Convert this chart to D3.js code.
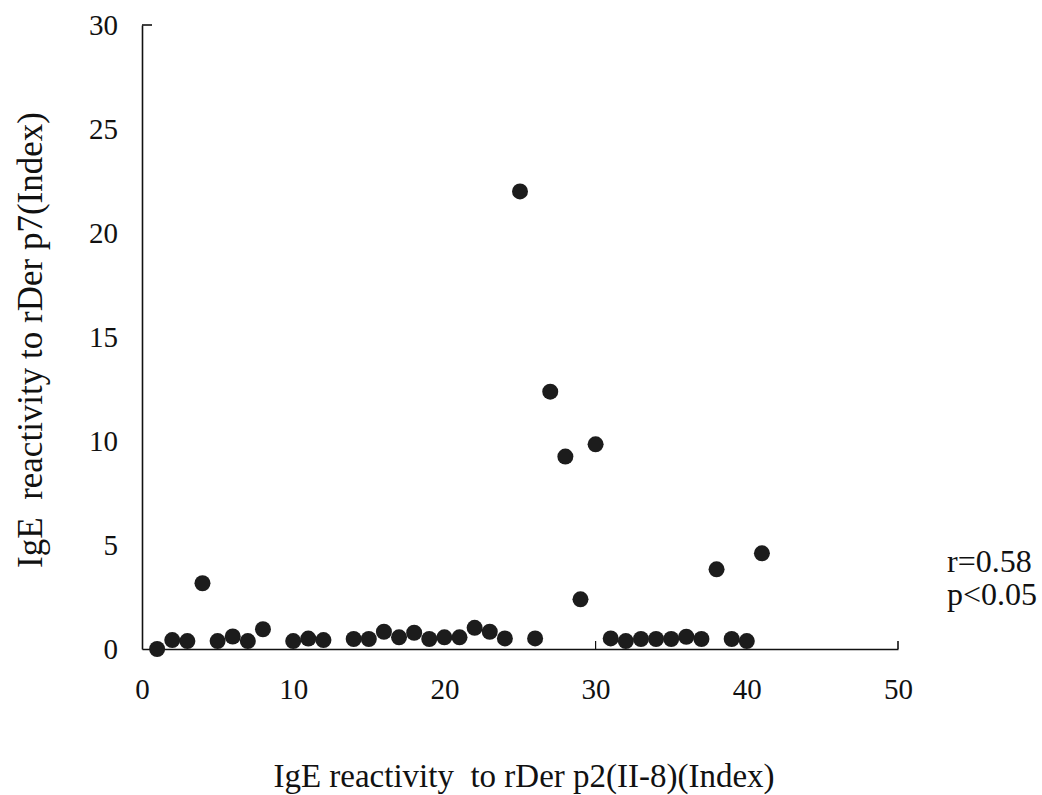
<!DOCTYPE html>
<html>
<head>
<meta charset="utf-8">
<script src="https://cdn.jsdelivr.net/npm/d3@7/dist/d3.min.js"></script>
<style>
  body { margin: 0; background: #fff; }
  text { font-family: "Liberation Serif", "Times New Roman", serif; fill: #111; }
</style>
</head>
<body>
<div id="vis"></div>
<script>
/* data */
var xValues = [1, 2, 3, 4, 5, 6, 7, 8, 10, 11, 12, 14, 15, 16, 17, 18, 19, 20, 21, 22, 23, 24,
               25, 26, 27, 28, 29, 30, 31, 32, 33, 34, 35, 36, 37, 38, 39, 40, 41];
var yValues = [0.0, 0.43, 0.38, 3.16, 0.38, 0.6, 0.38, 0.95, 0.38, 0.5, 0.43, 0.48, 0.48, 0.83, 0.56, 0.78, 0.48, 0.56, 0.56, 1.02, 0.83, 0.51,
               22.0, 0.51, 12.37, 9.25, 2.39, 9.84, 0.51, 0.38, 0.48, 0.48, 0.48, 0.59, 0.48, 3.83, 0.48, 0.38, 4.6];
var xTicks = [0, 10, 20, 30, 40, 50];
var yTicks = [0, 5, 10, 15, 20, 25, 30];
var xTitle = "IgE reactivity\u00a0 to rDer p2(II-8)(Index)";
var yTitle = "IgE\u00a0 reactivity to rDer p7(Index)";
var notes = ["r=0.58", "p<0.05"];

var width = 1042, height = 795;
var radius = 8;

var svg = d3.select('#vis').append('svg')
    .attr('width', width)
    .attr('height', height);

/* Scales */
var xScale = d3.scaleLinear().domain([0, 50]).range([142, 898]);
var yScale = d3.scaleLinear().domain([0, 30]).range([649, 25]);

/* Axes */
var xAxis = d3.axisBottom(xScale).tickValues(xTicks).tickSize(0).tickPadding(35);
var yAxis = d3.axisLeft(yScale).tickValues(yTicks).tickSize(0).tickPadding(24);

var xAxisDraw = svg.append('g')
    .attr('class', 'x axis')
    .attr('transform', 'translate(0,' + yScale(0) + ')')
    .call(xAxis);

var yAxisDraw = svg.append('g')
    .attr('class', 'y axis')
    .attr('transform', 'translate(' + xScale(0) + ',0)')
    .call(yAxis);

svg.selectAll('.axis .domain').attr('stroke', '#111').attr('stroke-width', 1.6);
svg.selectAll('.axis text')
    .style('font-family', '"Liberation Serif", serif')
    .style('font-size', '29px')
    .attr('fill', '#111');
xAxisDraw.selectAll('text').attr('dy', '0.5em');

// little hooks at the ends of the axes, as in the scan
svg.append('line')
    .attr('x1', xScale(0)).attr('x2', xScale(0) + 10)
    .attr('y1', yScale(30)).attr('y2', yScale(30))
    .attr('stroke', '#111').attr('stroke-width', 1.6);
svg.append('line')
    .attr('x1', xScale(50)).attr('x2', xScale(50))
    .attr('y1', yScale(0)).attr('y2', yScale(0) - 8)
    .attr('stroke', '#111').attr('stroke-width', 1.6);
svg.append('line')
    .attr('x1', xScale(30)).attr('x2', xScale(30))
    .attr('y1', yScale(0)).attr('y2', yScale(0) - 8)
    .attr('stroke', '#111').attr('stroke-width', 1.2);

/* Points */
var points = xValues.map(function (x, i) { return { x: x, y: yValues[i] }; });

svg.append('g')
    .attr('class', 'nodes')
    .selectAll('circle')
    .data(points)
    .enter()
    .append('circle')
    .attr('cx', function (d) { return xScale(d.x); })
    .attr('cy', function (d) { return yScale(d.y); })
    .attr('r', radius)
    .attr('fill', '#1c1c1c');

/* Titles */
svg.append('text')
    .attr('x', 524)
    .attr('y', 787)
    .attr('text-anchor', 'middle')
    .style('font-size', '33px')
    .text(xTitle);

svg.append('text')
    .attr('transform', 'translate(42,' + 340 + ') rotate(-90)')
    .attr('text-anchor', 'middle')
    .style('font-size', '35px')
    .text(yTitle);

/* r and p */
svg.append('g')
    .selectAll('text')
    .data(notes)
    .enter()
    .append('text')
    .attr('x', 947)
    .attr('y', function (d, i) { return 572 + i * 33; })
    .style('font-size', '32px')
    .text(function (d) { return d; });
</script>
</body>
</html>
